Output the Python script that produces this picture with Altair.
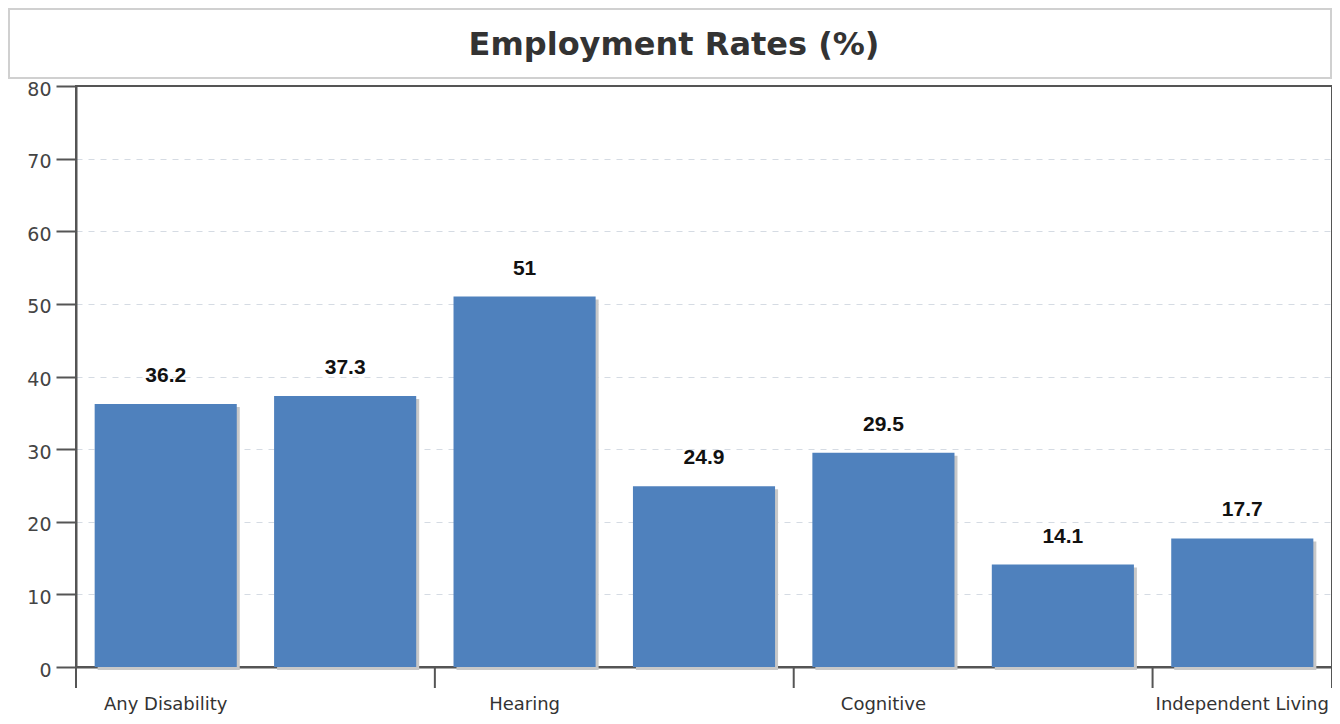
import json
import altair as alt
import pandas as pd

# ---- data ----
categories = ["Any Disability", "Visual", "Hearing", "Ambulatory",
              "Cognitive", "Self-Care", "Independent Living"]
rates = [36.2, 37.3, 51, 24.9, 29.5, 14.1, 17.7]
shown_labels = ["Any Disability", "Hearing", "Cognitive", "Independent Living"]
y_ticks = [0, 10, 20, 30, 40, 50, 60, 70, 80]
title_text = "Employment Rates (%)"

df = pd.DataFrame({"category": categories, "rate": rates})
tick_df = pd.DataFrame({"category": shown_labels})
end_df = pd.DataFrame({"category": [categories[-1]]})
title_df = pd.DataFrame({"title": [title_text]})

W, H = 1256, 581
P_IN, P_OUT = 0.208, 0.104

xscale = alt.Scale(domain=categories, paddingInner=P_IN, paddingOuter=P_OUT)
xscale_edges = alt.Scale(domain=categories, paddingInner=0, paddingOuter=0)
yscale = alt.Scale(domain=[0, 80], nice=False)

label_expr = "indexof(" + json.dumps(shown_labels) + ", datum.value) >= 0 ? datum.value : ''"

x_axis = alt.Axis(title=None, ticks=False, labelAngle=0, labelFont="DejaVu Sans",
                  labelFontSize=18, labelColor="#333", labelPadding=28, labelLimit=400,
                  domainColor="#555", domainWidth=2, labelExpr=label_expr,
                  labelOverlap=False, grid=False)
y_axis = alt.Axis(title=None, values=y_ticks, tickSize=20, tickWidth=2, tickColor="#555",
                  domainColor="#555", domainWidth=2, labelFont="DejaVu Sans",
                  labelFontSize=19, labelColor="#444", labelPadding=5, labelOffset=3,
                  gridColor="#d5dbe3", gridDash=[6, 6], gridWidth=1,
                  gridOpacity={"condition": {"test": "datum.value === 80 || datum.value === 0",
                                             "value": 0}, "value": 1})

base = alt.Chart(df)

shadow = base.mark_bar(color="#c8c8c8", xOffset=3, yOffset=3).encode(
    x=alt.X("category:N", scale=xscale, axis=x_axis, sort=categories),
    y=alt.Y("rate:Q", scale=yscale, axis=y_axis),
)

bars = base.mark_bar(color="#4f81bd").encode(
    x=alt.X("category:N", scale=xscale, axis=None, sort=categories),
    y=alt.Y("rate:Q", scale=yscale),
)

labels = base.mark_text(font="Liberation Sans", fontWeight="bold", fontSize=21,
                        color="#111", baseline="alphabetic", dy=-22).encode(
    x=alt.X("category:N", scale=xscale, axis=None, sort=categories),
    y=alt.Y("rate:Q", scale=yscale),
    text=alt.Text("rate:Q"),
)

ticks = alt.Chart(tick_df).mark_rule(color="#555", strokeWidth=2).encode(
    x=alt.X("category:N", scale=xscale_edges, bandPosition=0, axis=None, sort=categories),
    y=alt.value(H),
    y2=alt.value(H + 21),
)
end_tick = alt.Chart(end_df).mark_rule(color="#555", strokeWidth=2).encode(
    x=alt.X("category:N", scale=xscale_edges, bandPosition=1, axis=None, sort=categories),
    y=alt.value(0),
    y2=alt.value(H + 21),
)

title_box = alt.Chart(title_df).mark_rect(fill="white", stroke="#d0d0d0", strokeWidth=2).encode(
    x=alt.value(-67), x2=alt.value(1255), y=alt.value(-77), y2=alt.value(-8)
)
title = alt.Chart(title_df).mark_text(font="DejaVu Sans", fontWeight="bold", fontSize=32,
                                      color="#333", align="center",
                                      baseline="alphabetic").encode(
    x=alt.value(598), y=alt.value(-31), text="title:N"
)

chart = alt.layer(shadow, bars, labels, ticks, end_tick, title_box, title).resolve_scale(
    x="independent"
).properties(
    width=W, height=H,
    background="white",
    autosize=alt.AutoSizeParams(type="none"),
    padding={"left": 68, "top": 78, "right": 0, "bottom": 49},
).configure_view(stroke="#555", strokeWidth=2)

chart.save("out.html", embed_options={"renderer": "svg", "actions": False})
